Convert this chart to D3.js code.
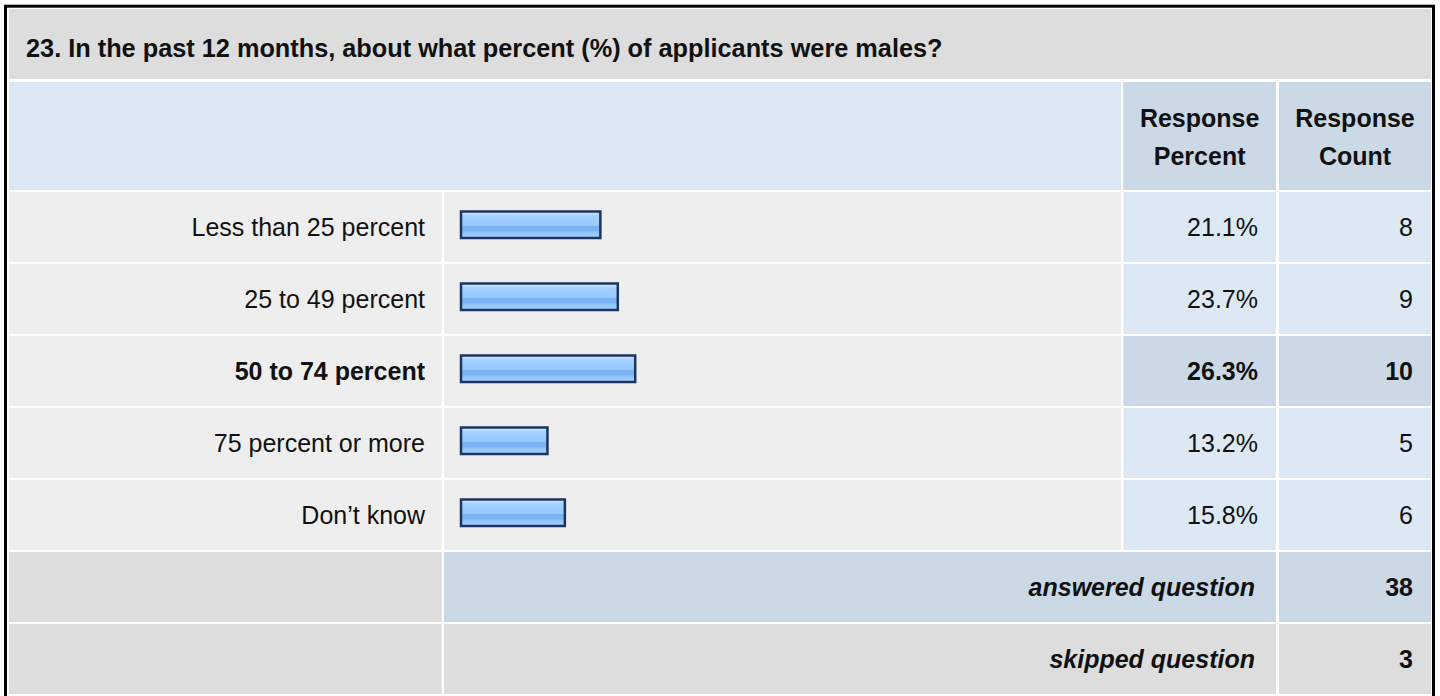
<!DOCTYPE html>
<html>
<head>
<meta charset="utf-8">
<script src="https://cdn.jsdelivr.net/npm/d3@7"></script>
<style>
  body { margin: 0; background: #fff; }
  text { font-family: "Liberation Sans", Arial, sans-serif; font-size: 25px; fill: #111; }
</style>
</head>
<body>
<div id="chart"></div>
<script>
var title = "23. In the past 12 months, about what percent (%) of applicants were males?";
var answers = ["Less than 25 percent", "25 to 49 percent", "50 to 74 percent", "75 percent or more", "Don\u2019t know"];
var percents = [21.1, 23.7, 26.3, 13.2, 15.8];
var counts = [8, 9, 10, 5, 6];
var headerLines = [["Response", "Percent"], ["Response", "Count"]];
var footerLabels = ["answered question", "skipped question"];
var footerValues = [38, 3];

var W = 1440, H = 696;

// column edges
var col = {
  label: [9, 441.7],
  bar: [444, 1121],
  pct: [1123.3, 1276],
  cnt: [1279, 1431]
};

var svg = d3.select("#chart")
  .append("svg")
  .attr("width", W)
  .attr("height", H);

var defs = svg.append("defs");
var grad = defs.append("linearGradient")
  .attr("id", "barGrad")
  .attr("x1", 0).attr("y1", 0).attr("x2", 0).attr("y2", 1);
[["0%", "#cae5ff"], ["10%", "#c2e0ff"], ["12%", "#aad5ff"], ["30%", "#9fcdff"], ["54%", "#98c9ff"],
 ["56%", "#79b0f0"], ["74%", "#7cb3f2"], ["77%", "#8fc3fb"], ["90%", "#9ccbff"], ["100%", "#aad4ff"]]
  .forEach(function(s) {
    grad.append("stop").attr("offset", s[0]).attr("stop-color", s[1]);
  });

// title row
svg.append("rect").attr("x", 9).attr("y", 9).attr("width", col.cnt[1] - 9).attr("height", 70)
  .attr("fill", "#dddddd");
svg.append("text").attr("x", 26).attr("y", 57)
  .style("font-weight", "bold")
  .style("font-size", "25.3px")
  .text(title);

// header row
svg.append("rect").attr("x", col.label[0]).attr("y", 82).attr("width", col.bar[1] - col.label[0]).attr("height", 108)
  .attr("fill", "#dde8f5");
[col.pct, col.cnt].forEach(function(c, i) {
  svg.append("rect").attr("x", c[0]).attr("y", 82).attr("width", c[1] - c[0]).attr("height", 108)
    .attr("fill", "#cbd8e6");
  headerLines[i].forEach(function(t, j) {
    svg.append("text")
      .attr("x", (c[0] + c[1]) / 2)
      .attr("y", 127 + j * 38)
      .attr("text-anchor", "middle")
      .style("font-weight", "bold")
      .text(t);
  });
});

// scales
var y = d3.scaleBand()
  .domain(answers)
  .range([191, 551])
  .paddingInner(2 / 72)
  .paddingOuter(1 / 72);

var x = d3.scaleLinear()
  .domain([0, 100])
  .range([460, 1130]);

var rows = svg.selectAll("g.row")
  .data(answers.map(function(a, i) { return {label: a, pct: percents[i], count: counts[i]}; }))
  .enter()
  .append("g")
  .attr("class", "row")
  .attr("transform", function(d) { return "translate(0," + y(d.label) + ")"; });

var maxPct = d3.max(percents);
var bh = y.bandwidth();

rows.append("rect").attr("x", col.label[0]).attr("width", col.label[1] - col.label[0]).attr("height", bh).attr("fill", "#eeeeee");
rows.append("rect").attr("x", col.bar[0]).attr("width", col.bar[1] - col.bar[0]).attr("height", bh).attr("fill", "#eeeeee");
rows.append("rect").attr("x", col.pct[0]).attr("width", col.pct[1] - col.pct[0]).attr("height", bh)
  .attr("fill", function(d) { return d.pct === maxPct ? "#cbd8e6" : "#dde8f5"; });
rows.append("rect").attr("x", col.cnt[0]).attr("width", col.cnt[1] - col.cnt[0]).attr("height", bh)
  .attr("fill", function(d) { return d.pct === maxPct ? "#cbd8e6" : "#dde8f5"; });

// bars
rows.append("rect")
  .attr("x", x(0) + 1)
  .attr("y", 19.5)
  .attr("width", function(d) { return x(d.pct) - x(0) - 2; })
  .attr("height", 26.5)
  .attr("fill", "url(#barGrad)")
  .attr("stroke", "#1b3560")
  .attr("stroke-width", 2.5);

rows.append("text")
  .attr("x", 425)
  .attr("y", bh / 2 + 8.5)
  .attr("text-anchor", "end")
  .style("font-weight", function(d) { return d.pct === maxPct ? "bold" : "normal"; })
  .text(function(d) { return d.label; });

rows.append("text")
  .attr("x", col.pct[1] - 18)
  .attr("y", bh / 2 + 8.5)
  .attr("text-anchor", "end")
  .style("font-weight", function(d) { return d.pct === maxPct ? "bold" : "normal"; })
  .text(function(d) { return d3.format(".1f")(d.pct) + "%"; });

rows.append("text")
  .attr("x", col.cnt[1] - 18)
  .attr("y", bh / 2 + 8.5)
  .attr("text-anchor", "end")
  .style("font-weight", function(d) { return d.pct === maxPct ? "bold" : "normal"; })
  .text(function(d) { return d.count; });

// footer rows
var fy = d3.scaleBand()
  .domain(footerLabels)
  .range([551, 695])
  .paddingInner(2 / 72)
  .paddingOuter(1 / 72);

var foot = svg.selectAll("g.foot")
  .data(footerLabels.map(function(l, i) { return {label: l, value: footerValues[i], i: i}; }))
  .enter()
  .append("g")
  .attr("class", "foot")
  .attr("transform", function(d) { return "translate(0," + fy(d.label) + ")"; });

var fh = fy.bandwidth();
foot.append("rect").attr("x", col.label[0]).attr("width", col.label[1] - col.label[0]).attr("height", fh).attr("fill", "#dddddd");
foot.append("rect").attr("x", col.bar[0]).attr("width", col.pct[1] - col.bar[0]).attr("height", fh)
  .attr("fill", function(d) { return d.i === 0 ? "#cbd8e6" : "#dddddd"; });
foot.append("rect").attr("x", col.cnt[0]).attr("width", col.cnt[1] - col.cnt[0]).attr("height", fh)
  .attr("fill", function(d) { return d.i === 0 ? "#cbd8e6" : "#dddddd"; });

foot.append("text")
  .attr("x", col.pct[1] - 21)
  .attr("y", fh / 2 + 8.5)
  .attr("text-anchor", "end")
  .style("font-weight", "bold")
  .style("font-style", "italic")
  .text(function(d) { return d.label; });

foot.append("text")
  .attr("x", col.cnt[1] - 18)
  .attr("y", fh / 2 + 8.5)
  .attr("text-anchor", "end")
  .style("font-weight", "bold")
  .text(function(d) { return d.value; });

// outer frame
svg.append("rect")
  .attr("x", 5.5).attr("y", 6.2)
  .attr("width", 1428).attr("height", 800)
  .attr("fill", "none")
  .attr("stroke", "#000")
  .attr("stroke-width", 3);
</script>
</body>
</html>
